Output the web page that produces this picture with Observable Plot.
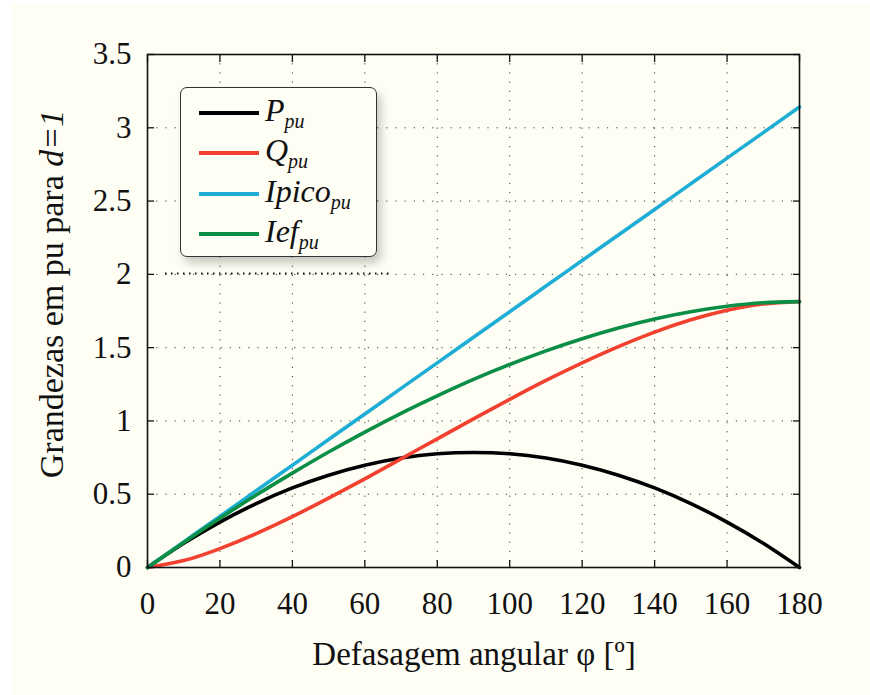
<!DOCTYPE html>
<html><head><meta charset="utf-8">
<script src="https://cdn.jsdelivr.net/npm/d3@7"></script>
<script src="https://cdn.jsdelivr.net/npm/@observablehq/plot@0.6"></script>
<style>
body{margin:0;background:#fff;width:870px;height:695px;overflow:hidden;position:relative;font-family:"Liberation Serif","Times New Roman",serif;}
#bg{position:absolute;left:11px;top:3px;right:0;bottom:0;background:#fefef4;}
#chart{position:absolute;left:0;top:0;}
#legend{position:absolute;left:180px;top:87px;width:197px;height:170px;border:1.3px solid #333;border-radius:7px;background:#fefef4;box-shadow:4px 6px 10px rgba(0,0,0,0.22);box-sizing:border-box;}
#legend svg{position:absolute;left:0;top:0;}
#chart svg text, #chart svg tspan{font-family:"Liberation Serif","Times New Roman",serif !important;}
</style></head><body>
<div id="bg"></div><div id="chart"></div><div id="legend"></div>
<script>
// Data (phase shift in degrees)
const phi   = [0,10,20,30,40,50,60,70,80,90,100,110,120,130,140,150,160,170,180];
const P     = [0,0.165,0.310,0.436,0.543,0.630,0.698,0.747,0.776,0.785,0.776,0.747,0.698,0.630,0.543,0.436,0.310,0.165,0];
const Q     = [0,0.047,0.129,0.231,0.347,0.473,0.605,0.741,0.878,1.014,1.147,1.276,1.396,1.507,1.606,1.690,1.755,1.798,1.814];
const Ipico = [0,0.175,0.349,0.524,0.698,0.873,1.047,1.222,1.396,1.571,1.745,1.920,2.094,2.269,2.443,2.618,2.793,2.967,3.142];
const Ief   = [0,0.171,0.336,0.494,0.644,0.788,0.924,1.052,1.171,1.283,1.385,1.478,1.561,1.634,1.696,1.745,1.782,1.806,1.814];

const seriesNames = ["P","Q","Ipico","Ief"];
const seriesSub   = ["pu","pu","pu","pu"];
const seriesVals  = [P, Q, Ipico, Ief];
const seriesColors = ["#000000","#f2412f","#1eadd4","#0b8e45"];

const xTicks = [0,20,40,60,80,100,120,140,160,180];
const yTicks = [0,0.5,1,1.5,2,2.5,3,3.5];
const xTitle = "Defasagem angular φ [º]";
const yTitleA = "Grandezas em pu para ";
const yTitleB = "d=1";

const FONT = "'Liberation Serif','Times New Roman',serif";

const rows = [];
seriesNames.forEach((s, i) => phi.forEach((x, j) => rows.push({series: s, phi: x, v: seriesVals[i][j]})));

const gridStyle = {stroke: "#333", strokeOpacity: 0.95, strokeWidth: 1, strokeDasharray: "1.2,8"};
const fmt = d => String(d);

const chart = Plot.plot({
  width: 870, height: 695,
  marginLeft: 147, marginRight: 71, marginTop: 54, marginBottom: 128,
  style: `background: transparent; font-family: ${FONT}; color: #111; overflow: visible;`,
  x: {domain: [0, 180]},
  y: {domain: [0, 3.5]},
  color: {domain: seriesNames, range: seriesColors},
  marks: [
    Plot.gridX(xTicks, gridStyle),
    Plot.gridY(yTicks, gridStyle),
    Plot.line(rows, {x: "phi", y: "v", z: "series", stroke: "series", strokeWidth: 3.6, curve: "natural"}),
    Plot.frame({stroke: "#111", strokeWidth: 1.6}),
    Plot.axisX(xTicks, {anchor: "bottom", tickSize: 0, tickPadding: 24, fontSize: 31, tickFormat: fmt, label: null}),
    Plot.axisX(xTicks, {anchor: "bottom", tickSize: -7, tickFormat: () => "", label: null, strokeWidth: 1.3}),
    Plot.axisX(xTicks, {anchor: "top", tickSize: -7, tickFormat: () => "", label: null, strokeWidth: 1.3}),
    Plot.axisY(yTicks, {anchor: "left", tickSize: 0, tickPadding: 16, fontSize: 31, tickFormat: fmt, label: null}),
    Plot.axisY(yTicks, {anchor: "left", tickSize: -7, tickFormat: () => "", label: null, strokeWidth: 1.3}),
    Plot.axisY(yTicks, {anchor: "right", tickSize: -7, tickFormat: () => "", label: null, strokeWidth: 1.3})
  ]
});
document.getElementById("chart").appendChild(chart);

const svg = d3.select(chart);
// darker dotted segment under legend shadow
svg.append("line").attr("x1", 165).attr("x2", 390).attr("y1", 273.5).attr("y2", 273.5)
  .attr("stroke", "#111").attr("stroke-width", 2).attr("stroke-dasharray", "1.5,4.5");
svg.append("text").attr("x", 474).attr("y", 665).attr("text-anchor", "middle")
  .style("font-family", FONT).attr("font-size", 33).attr("fill", "#111").text(xTitle);
const yt = svg.append("text").attr("transform", "translate(63,294) rotate(-90)")
  .style("font-family", FONT).attr("text-anchor", "middle").attr("font-size", 34).attr("fill", "#111");
yt.append("tspan").text(yTitleA);
yt.append("tspan").attr("font-style", "italic").text(yTitleB);

// legend
const leg = d3.select("#legend").append("svg").attr("width", 197).attr("height", 170)
  .style("font-family", FONT);
const lineY = [25, 65, 106, 146];
seriesNames.forEach((s, i) => {
  leg.append("line").attr("x1", 18).attr("x2", 78).attr("y1", lineY[i]).attr("y2", lineY[i])
    .attr("stroke", seriesColors[i]).attr("stroke-width", 4);
  const t = leg.append("text").attr("x", 84).attr("y", lineY[i] + 8).attr("font-size", 32)
    .attr("font-style", "italic").attr("fill", "#111").style("font-family", FONT);
  t.append("tspan").text(s);
  t.append("tspan").attr("font-size", 20).attr("dy", 7).text(seriesSub[i]);
});
</script>
</body></html>
